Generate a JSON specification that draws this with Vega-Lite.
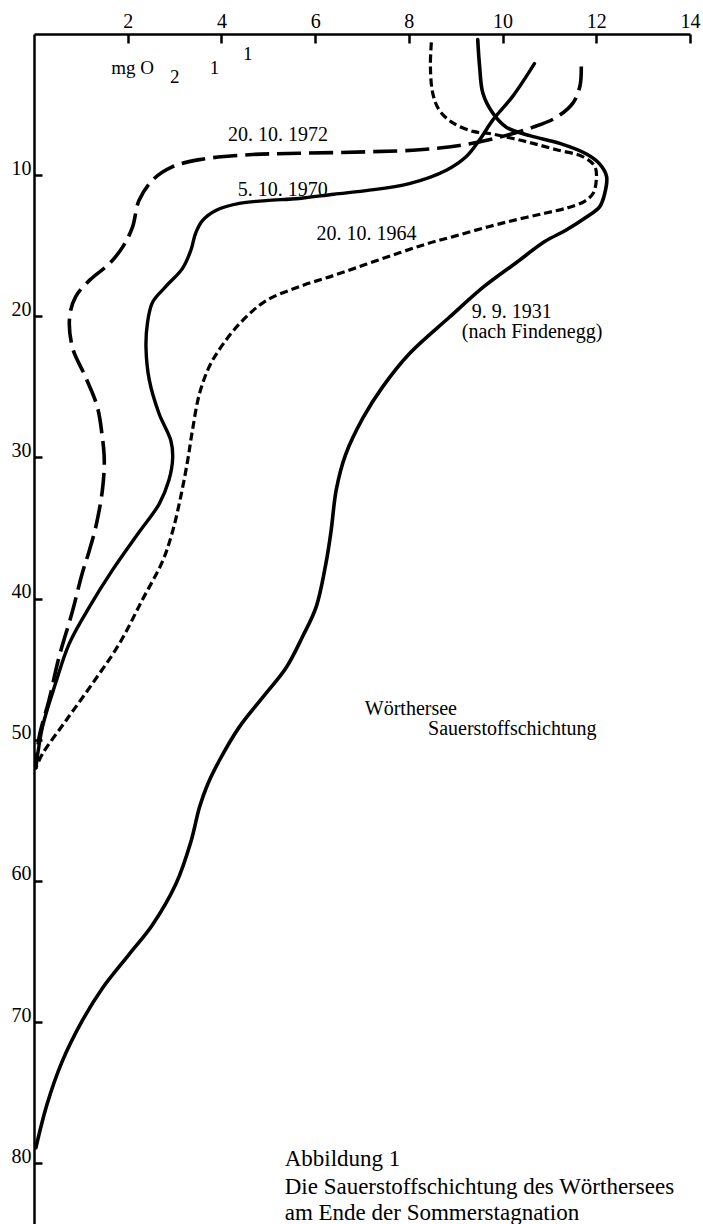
{
  "$schema": "https://vega.github.io/schema/vega-lite/v6.json",
  "width": 656,
  "height": 1190,
  "autosize": "none",
  "padding": {"left": 34, "top": 34, "right": 13, "bottom": 0},
  "background": "white",
  "config": {
    "view": {"stroke": null},
    "axis": {
      "grid": false,
      "domainColor": "#000",
      "domainWidth": 2.5,
      "tickColor": "#000",
      "tickWidth": 2.5,
      "labelColor": "#000",
      "labelFont": "Liberation Serif",
      "labelFontSize": 20,
      "labelOverlap": false,
      "labelFlush": false,
      "labelBound": false,
      "title": null
    },
    "text": {"font": "Liberation Serif", "color": "#000"}
  },
  "datasets": {
    "profiles": [
      {"date": "9.9.1931", "o2": 9.47, "depth": 0.4},
      {"date": "9.9.1931", "o2": 9.51, "depth": 2.3},
      {"date": "9.9.1931", "o2": 9.58, "depth": 4.2},
      {"date": "9.9.1931", "o2": 9.79, "depth": 5.6},
      {"date": "9.9.1931", "o2": 10.08, "depth": 6.6},
      {"date": "9.9.1931", "o2": 10.58, "depth": 7.2},
      {"date": "9.9.1931", "o2": 11.22, "depth": 7.75},
      {"date": "9.9.1931", "o2": 11.79, "depth": 8.5},
      {"date": "9.9.1931", "o2": 12.07, "depth": 9.2},
      {"date": "9.9.1931", "o2": 12.22, "depth": 10.1},
      {"date": "9.9.1931", "o2": 12.18, "depth": 11.3},
      {"date": "9.9.1931", "o2": 12.07, "depth": 12.25},
      {"date": "9.9.1931", "o2": 11.8, "depth": 12.95},
      {"date": "9.9.1931", "o2": 11.35, "depth": 13.9},
      {"date": "9.9.1931", "o2": 10.9, "depth": 14.7},
      {"date": "9.9.1931", "o2": 10.29, "depth": 16.2},
      {"date": "9.9.1931", "o2": 9.6, "depth": 17.9},
      {"date": "9.9.1931", "o2": 8.87, "depth": 20.05},
      {"date": "9.9.1931", "o2": 8.01, "depth": 22.65},
      {"date": "9.9.1931", "o2": 7.44, "depth": 25.0},
      {"date": "9.9.1931", "o2": 7.02, "depth": 27.2},
      {"date": "9.9.1931", "o2": 6.65, "depth": 29.8},
      {"date": "9.9.1931", "o2": 6.45, "depth": 32.3},
      {"date": "9.9.1931", "o2": 6.34, "depth": 35.2},
      {"date": "9.9.1931", "o2": 6.23, "depth": 37.5},
      {"date": "9.9.1931", "o2": 6.02, "depth": 40.6},
      {"date": "9.9.1931", "o2": 5.73, "depth": 42.7},
      {"date": "9.9.1931", "o2": 5.38, "depth": 44.9},
      {"date": "9.9.1931", "o2": 4.88, "depth": 47.0},
      {"date": "9.9.1931", "o2": 4.38, "depth": 49.1},
      {"date": "9.9.1931", "o2": 3.95, "depth": 51.5},
      {"date": "9.9.1931", "o2": 3.7, "depth": 53.2},
      {"date": "9.9.1931", "o2": 3.53, "depth": 54.8},
      {"date": "9.9.1931", "o2": 3.35, "depth": 57.2},
      {"date": "9.9.1931", "o2": 3.03, "depth": 60.2},
      {"date": "9.9.1931", "o2": 2.53, "depth": 63.1},
      {"date": "9.9.1931", "o2": 2.03, "depth": 65.2},
      {"date": "9.9.1931", "o2": 1.46, "depth": 67.6},
      {"date": "9.9.1931", "o2": 1.03, "depth": 69.9},
      {"date": "9.9.1931", "o2": 0.6, "depth": 72.8},
      {"date": "9.9.1931", "o2": 0.28, "depth": 75.8},
      {"date": "9.9.1931", "o2": 0.04, "depth": 78.9},

      {"date": "5.10.1970", "o2": 10.68, "depth": 2.1},
      {"date": "5.10.1970", "o2": 10.22, "depth": 4.4},
      {"date": "5.10.1970", "o2": 9.79, "depth": 6.1},
      {"date": "5.10.1970", "o2": 9.51, "depth": 7.5},
      {"date": "5.10.1970", "o2": 9.22, "depth": 8.7},
      {"date": "5.10.1970", "o2": 8.8, "depth": 9.65},
      {"date": "5.10.1970", "o2": 8.01, "depth": 10.6},
      {"date": "5.10.1970", "o2": 7.09, "depth": 11.1},
      {"date": "5.10.1970", "o2": 6.4, "depth": 11.35},
      {"date": "5.10.1970", "o2": 5.66, "depth": 11.65},
      {"date": "5.10.1970", "o2": 4.95, "depth": 11.8},
      {"date": "5.10.1970", "o2": 4.38, "depth": 12.0},
      {"date": "5.10.1970", "o2": 3.88, "depth": 12.5},
      {"date": "5.10.1970", "o2": 3.6, "depth": 13.2},
      {"date": "5.10.1970", "o2": 3.45, "depth": 14.1},
      {"date": "5.10.1970", "o2": 3.35, "depth": 15.3},
      {"date": "5.10.1970", "o2": 3.17, "depth": 16.6},
      {"date": "5.10.1970", "o2": 2.81, "depth": 17.9},
      {"date": "5.10.1970", "o2": 2.53, "depth": 19.0},
      {"date": "5.10.1970", "o2": 2.42, "depth": 20.5},
      {"date": "5.10.1970", "o2": 2.39, "depth": 22.2},
      {"date": "5.10.1970", "o2": 2.46, "depth": 24.5},
      {"date": "5.10.1970", "o2": 2.67, "depth": 26.9},
      {"date": "5.10.1970", "o2": 2.92, "depth": 28.8},
      {"date": "5.10.1970", "o2": 2.96, "depth": 30.0},
      {"date": "5.10.1970", "o2": 2.88, "depth": 31.6},
      {"date": "5.10.1970", "o2": 2.67, "depth": 33.3},
      {"date": "5.10.1970", "o2": 2.24, "depth": 35.3},
      {"date": "5.10.1970", "o2": 1.67, "depth": 38.0},
      {"date": "5.10.1970", "o2": 1.18, "depth": 40.6},
      {"date": "5.10.1970", "o2": 0.75, "depth": 43.2},
      {"date": "5.10.1970", "o2": 0.46, "depth": 46.0},
      {"date": "5.10.1970", "o2": 0.18, "depth": 49.1},
      {"date": "5.10.1970", "o2": 0.04, "depth": 52.0},

      {"date": "20.10.1964", "o2": 8.48, "depth": 0.6},
      {"date": "20.10.1964", "o2": 8.46, "depth": 2.3},
      {"date": "20.10.1964", "o2": 8.51, "depth": 4.2},
      {"date": "20.10.1964", "o2": 8.65, "depth": 5.4},
      {"date": "20.10.1964", "o2": 8.94, "depth": 6.3},
      {"date": "20.10.1964", "o2": 9.37, "depth": 6.9},
      {"date": "20.10.1964", "o2": 9.72, "depth": 7.05},
      {"date": "20.10.1964", "o2": 10.22, "depth": 7.4},
      {"date": "20.10.1964", "o2": 10.65, "depth": 7.75},
      {"date": "20.10.1964", "o2": 11.15, "depth": 8.2},
      {"date": "20.10.1964", "o2": 11.72, "depth": 8.7},
      {"date": "20.10.1964", "o2": 11.97, "depth": 9.4},
      {"date": "20.10.1964", "o2": 12.0, "depth": 10.35},
      {"date": "20.10.1964", "o2": 11.93, "depth": 11.3},
      {"date": "20.10.1964", "o2": 11.75, "depth": 11.85},
      {"date": "20.10.1964", "o2": 11.4, "depth": 12.3},
      {"date": "20.10.1964", "o2": 10.9, "depth": 12.7},
      {"date": "20.10.1964", "o2": 10.3, "depth": 13.15},
      {"date": "20.10.1964", "o2": 9.7, "depth": 13.65},
      {"date": "20.10.1964", "o2": 9.0, "depth": 14.3},
      {"date": "20.10.1964", "o2": 8.4, "depth": 14.85},
      {"date": "20.10.1964", "o2": 7.8, "depth": 15.5},
      {"date": "20.10.1964", "o2": 7.1, "depth": 16.3},
      {"date": "20.10.1964", "o2": 6.4, "depth": 17.1},
      {"date": "20.10.1964", "o2": 5.66, "depth": 17.9},
      {"date": "20.10.1964", "o2": 4.95, "depth": 18.9},
      {"date": "20.10.1964", "o2": 4.45, "depth": 20.3},
      {"date": "20.10.1964", "o2": 4.05, "depth": 21.9},
      {"date": "20.10.1964", "o2": 3.75, "depth": 23.5},
      {"date": "20.10.1964", "o2": 3.53, "depth": 25.5},
      {"date": "20.10.1964", "o2": 3.38, "depth": 28.1},
      {"date": "20.10.1964", "o2": 3.28, "depth": 30.2},
      {"date": "20.10.1964", "o2": 3.13, "depth": 32.8},
      {"date": "20.10.1964", "o2": 2.96, "depth": 35.2},
      {"date": "20.10.1964", "o2": 2.75, "depth": 37.3},
      {"date": "20.10.1964", "o2": 2.31, "depth": 40.1},
      {"date": "20.10.1964", "o2": 1.82, "depth": 43.2},
      {"date": "20.10.1964", "o2": 1.25, "depth": 46.0},
      {"date": "20.10.1964", "o2": 0.68, "depth": 48.65},
      {"date": "20.10.1964", "o2": 0.18, "depth": 51.0},
      {"date": "20.10.1964", "o2": 0.04, "depth": 52.0},

      {"date": "20.10.1972", "o2": 11.68, "depth": 2.3},
      {"date": "20.10.1972", "o2": 11.65, "depth": 3.7},
      {"date": "20.10.1972", "o2": 11.5, "depth": 4.9},
      {"date": "20.10.1972", "o2": 11.15, "depth": 5.9},
      {"date": "20.10.1972", "o2": 10.65, "depth": 6.6},
      {"date": "20.10.1972", "o2": 9.94, "depth": 7.3},
      {"date": "20.10.1972", "o2": 9.08, "depth": 7.9},
      {"date": "20.10.1972", "o2": 8.23, "depth": 8.2},
      {"date": "20.10.1972", "o2": 7.09, "depth": 8.35},
      {"date": "20.10.1972", "o2": 5.66, "depth": 8.45},
      {"date": "20.10.1972", "o2": 4.59, "depth": 8.55},
      {"date": "20.10.1972", "o2": 3.53, "depth": 8.9},
      {"date": "20.10.1972", "o2": 2.96, "depth": 9.4},
      {"date": "20.10.1972", "o2": 2.53, "depth": 10.35},
      {"date": "20.10.1972", "o2": 2.24, "depth": 11.8},
      {"date": "20.10.1972", "o2": 2.1, "depth": 13.7},
      {"date": "20.10.1972", "o2": 1.89, "depth": 15.1},
      {"date": "20.10.1972", "o2": 1.6, "depth": 16.3},
      {"date": "20.10.1972", "o2": 1.2, "depth": 17.4},
      {"date": "20.10.1972", "o2": 0.89, "depth": 18.6},
      {"date": "20.10.1972", "o2": 0.76, "depth": 20.05},
      {"date": "20.10.1972", "o2": 0.82, "depth": 22.2},
      {"date": "20.10.1972", "o2": 1.1, "depth": 24.3},
      {"date": "20.10.1972", "o2": 1.35, "depth": 26.4},
      {"date": "20.10.1972", "o2": 1.46, "depth": 28.6},
      {"date": "20.10.1972", "o2": 1.5, "depth": 30.2},
      {"date": "20.10.1972", "o2": 1.46, "depth": 32.3},
      {"date": "20.10.1972", "o2": 1.32, "depth": 34.9},
      {"date": "20.10.1972", "o2": 1.18, "depth": 36.6},
      {"date": "20.10.1972", "o2": 1.03, "depth": 38.2},
      {"date": "20.10.1972", "o2": 0.82, "depth": 40.9},
      {"date": "20.10.1972", "o2": 0.53, "depth": 44.2},
      {"date": "20.10.1972", "o2": 0.32, "depth": 47.2},
      {"date": "20.10.1972", "o2": 0.11, "depth": 49.8},
      {"date": "20.10.1972", "o2": 0.04, "depth": 52.0}
    ],
    "curveLabels": [
      {"txt": "20. 10. 1972", "o2": 4.14, "depth": 7.55},
      {"txt": "5. 10. 1970", "o2": 4.35, "depth": 11.45},
      {"txt": "20. 10. 1964", "o2": 6.03, "depth": 14.6},
      {"txt": "9. 9. 1931", "o2": 9.34, "depth": 20.1},
      {"txt": "(nach Findenegg)", "o2": 9.13, "depth": 21.55},
      {"txt": "Wörthersee", "o2": 7.06, "depth": 48.26},
      {"txt": "Sauerstoffschichtung", "o2": 8.41, "depth": 49.67}
    ],
    "unitLabels": [
      {"txt": "mg O", "o2": 1.65, "depth": 2.84},
      {"txt": "2", "o2": 2.9, "depth": 3.5},
      {"txt": "1", "o2": 3.75, "depth": 2.84},
      {"txt": "1", "o2": 4.46, "depth": 1.85}
    ],
    "captionTitle": [
      {"txt": "Abbildung 1", "o2": 5.35, "depth": 80.21}
    ],
    "captionBody": [
      {"txt": ["Die Sauerstoffschichtung des Wörthersees", "am Ende der Sommerstagnation"], "o2": 5.35, "depth": 82.19}
    ]
  },
  "layer": [
    {
      "data": {"name": "profiles"},
      "transform": [{"filter": "datum.date === '9.9.1931'"}],
      "mark": {"type": "line", "interpolate": "catmull-rom", "stroke": "#000", "strokeWidth": 3.6, "strokeCap": "round"},
      "encoding": {
        "x": {"field": "o2", "type": "quantitative", "scale": {"domain": [0, 14], "nice": false, "zero": false},
              "axis": {"orient": "top", "values": [2, 4, 6, 8, 10, 12, 14], "tickSize": -9, "labelPadding": 16, "labelBaseline": "alphabetic"}},
        "y": {"field": "depth", "type": "quantitative", "scale": {"domain": [0, 84.3], "nice": false, "zero": false, "reverse": true},
              "axis": {"orient": "left", "values": [10, 20, 30, 40, 50, 60, 70, 80], "tickSize": -8, "labelPadding": 11, "labelBaseline": "alphabetic", "labelOffset": -1}},
        "order": {"value": null}
      }
    },
    {
      "data": {"name": "profiles"},
      "transform": [{"filter": "datum.date === '5.10.1970'"}],
      "mark": {"type": "line", "interpolate": "catmull-rom", "stroke": "#000", "strokeWidth": 3.4, "strokeCap": "round"},
      "encoding": {
        "x": {"field": "o2", "type": "quantitative"},
        "y": {"field": "depth", "type": "quantitative"},
        "order": {"value": null}
      }
    },
    {
      "data": {"name": "profiles"},
      "transform": [{"filter": "datum.date === '20.10.1964'"}],
      "mark": {"type": "line", "interpolate": "catmull-rom", "stroke": "#000", "strokeWidth": 3.2, "strokeDash": [8, 4]},
      "encoding": {
        "x": {"field": "o2", "type": "quantitative"},
        "y": {"field": "depth", "type": "quantitative"},
        "order": {"value": null}
      }
    },
    {
      "data": {"name": "profiles"},
      "transform": [{"filter": "datum.date === '20.10.1972'"}],
      "mark": {"type": "line", "interpolate": "catmull-rom", "stroke": "#000", "strokeWidth": 3.6, "strokeDash": [24, 8]},
      "encoding": {
        "x": {"field": "o2", "type": "quantitative"},
        "y": {"field": "depth", "type": "quantitative"},
        "order": {"value": null}
      }
    },
    {
      "data": {"name": "curveLabels"},
      "mark": {"type": "text", "align": "left", "baseline": "alphabetic", "fontSize": 20},
      "encoding": {
        "x": {"field": "o2", "type": "quantitative"},
        "y": {"field": "depth", "type": "quantitative"},
        "text": {"field": "txt"}
      }
    },
    {
      "data": {"name": "unitLabels"},
      "mark": {"type": "text", "align": "left", "baseline": "alphabetic", "fontSize": 19},
      "encoding": {
        "x": {"field": "o2", "type": "quantitative"},
        "y": {"field": "depth", "type": "quantitative"},
        "text": {"field": "txt"}
      }
    },
    {
      "data": {"name": "captionTitle"},
      "mark": {"type": "text", "align": "left", "baseline": "alphabetic", "fontSize": 23},
      "encoding": {
        "x": {"field": "o2", "type": "quantitative"},
        "y": {"field": "depth", "type": "quantitative"},
        "text": {"field": "txt"}
      }
    },
    {
      "data": {"name": "captionBody"},
      "mark": {"type": "text", "align": "left", "baseline": "alphabetic", "fontSize": 23, "lineHeight": 25.5},
      "encoding": {
        "x": {"field": "o2", "type": "quantitative"},
        "y": {"field": "depth", "type": "quantitative"},
        "text": {"field": "txt"}
      }
    }
  ]
}
